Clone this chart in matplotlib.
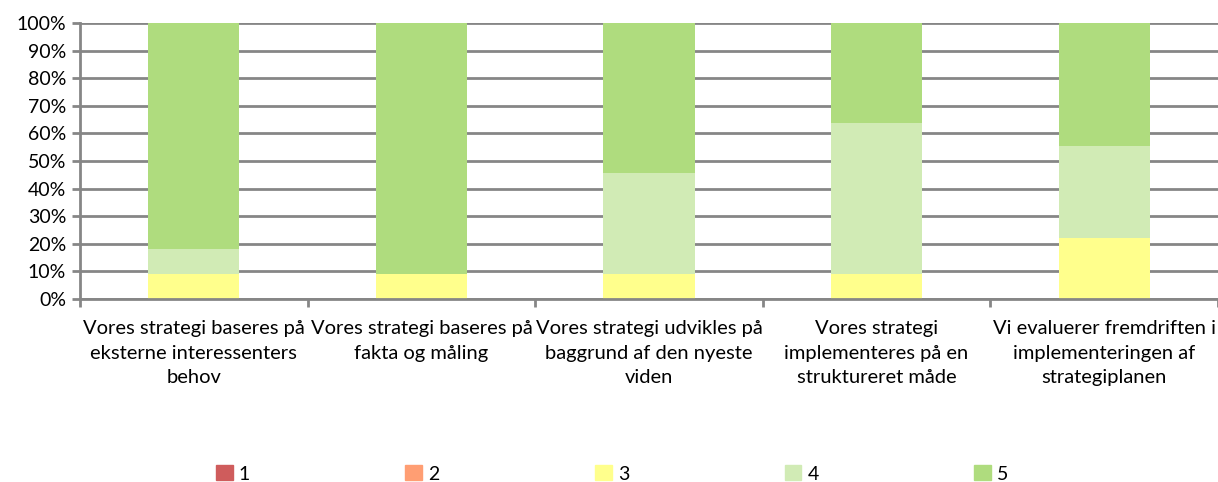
import numpy as np
import matplotlib.pyplot as plt
from matplotlib.patches import Patch

plt.rcParams["font.family"] = ["Lato", "DejaVu Sans"]

# Kategorier og andele (%) for svar 1-5
kategorier = [
    "Vores strategi baseres på\neksterne interessenters\nbehov",
    "Vores strategi baseres på\nfakta og måling",
    "Vores strategi udvikles på\nbaggrund af den nyeste\nviden",
    "Vores strategi\nimplementeres på en\nstruktureret måde",
    "Vi evaluerer fremdriften i\nimplementeringen af\nstrategiplanen",
]
svar1 = [0, 0, 0, 0, 0]
svar2 = [0, 0, 0, 0, 0]
svar3 = [9.1, 9.1, 9.1, 9.1, 22.2]
svar4 = [9.1, 0, 36.4, 54.5, 33.3]
svar5 = [81.8, 90.9, 54.5, 36.4, 44.5]

serier = [svar1, svar2, svar3, svar4, svar5]
etiketter = ["1", "2", "3", "4", "5"]
farver = ["#CF5C5C", "#FF9E73", "#FFFF8C", "#D1EBB5", "#AFDC7E"]

fig = plt.figure(figsize=(12.18, 4.82), dpi=100)
ax = fig.add_axes([80 / 1218, 1 - 299 / 482, 1 - 80 / 1218, 276 / 482])

x = np.arange(len(kategorier))
bund = np.zeros(len(kategorier))
for vals, farve in zip(serier, farver):
    ax.bar(x, vals, bottom=bund, width=0.40, color=farve, zorder=3)
    bund += np.array(vals)

ax.set_xlim(-0.5, len(kategorier) - 0.5)
ax.set_ylim(0, 100)
ax.set_yticks(np.arange(0, 101, 10))
ax.set_yticklabels([f"{v}%" for v in range(0, 101, 10)], fontsize=14)
ax.yaxis.grid(True, color="#868686", linewidth=2, zorder=0)

# kategorinavne centreret, tick-mærker ved grænserne
ax.set_xticks(np.arange(-0.5, len(kategorier)), minor=False)
ax.set_xticklabels([])
ax.set_xticks(x, minor=True)
ax.set_xticklabels(kategorier, minor=True, fontsize=14.5, linespacing=1.55)
ax.tick_params(axis="x", which="minor", length=0, pad=15)
ax.tick_params(axis="x", which="major", length=6, width=2, color="#868686")
ax.tick_params(axis="y", length=6, width=2, color="#868686", pad=4)

for s in ["top", "right"]:
    ax.spines[s].set_visible(False)
for s in ["left", "bottom"]:
    ax.spines[s].set_color("#868686")
    ax.spines[s].set_linewidth(2)
    ax.spines[s].set_zorder(4)

handles = [Patch(color=c, label=l) for c, l in zip(farver, etiketter)]
fig.legend(handles=handles, loc="center", bbox_to_anchor=(612 / 1218, 1 - 474 / 482),
           ncol=5, frameon=False, fontsize=14, handlelength=0.87, handleheight=0.8,
           handletextpad=0.3, columnspacing=8.0, borderpad=0)

fig.savefig("out.png", dpi=100)
